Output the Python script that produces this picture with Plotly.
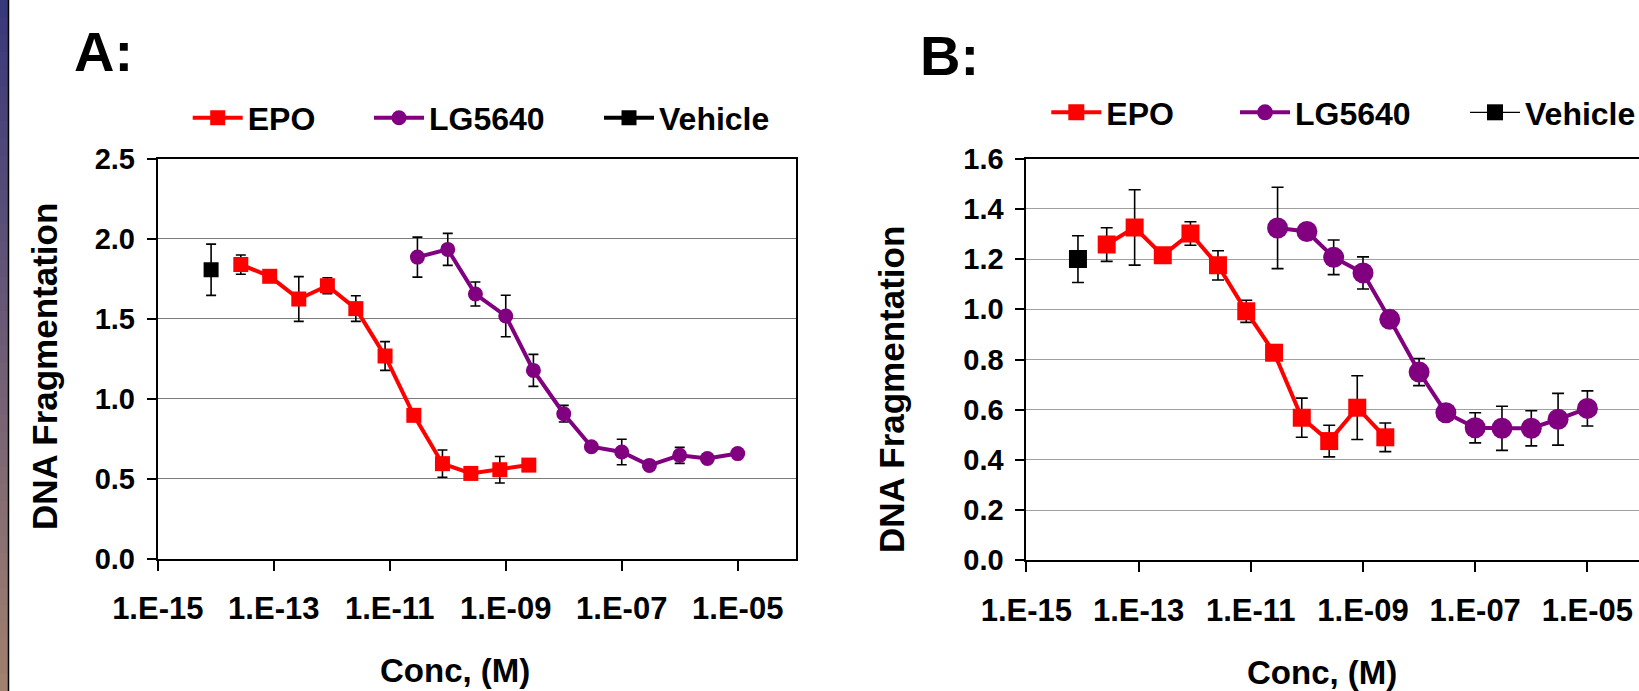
import plotly.graph_objects as go

# ---------------- data ----------------
tick_vals = [1e-15, 1e-13, 1e-11, 1e-09, 1e-07, 1e-05]
tick_text = ["1.E-15", "1.E-13", "1.E-11", "1.E-09", "1.E-07", "1.E-05"]

vehicle_conc = [8.3e-15]
epo_conc = [2.7e-14, 8.5e-14, 2.7e-13, 8.4e-13, 2.6e-12, 8.3e-12,
            2.6e-11, 8.1e-11, 2.5e-10, 7.9e-10, 2.5e-09]
lg_conc = [3e-11, 1e-10, 3e-10, 1e-09, 3e-09, 1e-08,
           3e-08, 1e-07, 3e-07, 1e-06, 3e-06, 1e-05]

# Panel A
a_vehicle = [1.806]
a_vehicle_err = [0.16]
a_epo = [1.838, 1.765, 1.623, 1.706, 1.563, 1.267, 0.896, 0.594, 0.533, 0.556, 0.585]
a_epo_err = [0.06, 0.02, 0.14, 0.05, 0.08, 0.09, 0.02, 0.085, 0.02, 0.083, 0.02]
a_lg = [1.885, 1.933, 1.654, 1.517, 1.177, 0.906, 0.700, 0.667, 0.583, 0.646, 0.626, 0.657]
a_lg_err = [0.125, 0.10, 0.075, 0.13, 0.10, 0.052, 0.02, 0.08, 0.02, 0.05, 0.02, 0.02]

# Panel B
b_vehicle = [1.20]
b_vehicle_err = [0.093]
b_epo = [1.258, 1.326, 1.215, 1.302, 1.175, 0.992, 0.827, 0.568, 0.475, 0.608, 0.490]
b_epo_err = [0.067, 0.15, 0.02, 0.047, 0.058, 0.044, 0.02, 0.078, 0.063, 0.127, 0.057]
b_lg = [1.324, 1.310, 1.207, 1.145, 0.960, 0.750, 0.588, 0.528, 0.526, 0.526, 0.562, 0.605]
b_lg_err = [0.162, 0.02, 0.069, 0.064, 0.02, 0.054, 0.02, 0.06, 0.088, 0.07, 0.103, 0.07]

# ---------------- layout constants ----------------
W, H = 1639, 691
FONT = "Liberation Sans, Arial, sans-serif"
RED, PURPLE, BLACK = "#FF0000", "#800080", "#000000"


def px(x):
    return x / W


def py(y):
    return (H - y) / H


fig = go.Figure()


def err(vals, width, thick=1.6):
    return dict(type="data", array=vals, visible=True, color="black",
                thickness=thick, width=width)


# ---- Panel A traces ----
fig.add_trace(go.Scatter(x=epo_conc, y=a_epo, name="EPO", mode="lines+markers",
                         line=dict(color=RED, width=4),
                         marker=dict(symbol="square", size=15, color=RED),
                         error_y=err(a_epo_err, 5), xaxis="x", yaxis="y",
                         legend="legend2"))
fig.add_trace(go.Scatter(x=lg_conc, y=a_lg, name="LG5640", mode="lines+markers",
                         line=dict(color=PURPLE, width=4),
                         marker=dict(symbol="circle", size=15, color=PURPLE),
                         error_y=err(a_lg_err, 5), xaxis="x", yaxis="y",
                         legend="legend3"))
fig.add_trace(go.Scatter(x=vehicle_conc, y=a_vehicle, name="Vehicle", mode="lines+markers",
                         line=dict(color=BLACK, width=4),
                         marker=dict(symbol="square", size=15, color=BLACK),
                         error_y=err(a_vehicle_err, 5), xaxis="x", yaxis="y",
                         legend="legend4"))

# ---- Panel B traces ----
fig.add_trace(go.Scatter(x=epo_conc, y=b_epo, name="EPO", mode="lines+markers",
                         line=dict(color=RED, width=4),
                         marker=dict(symbol="square", size=18, color=RED),
                         error_y=err(b_epo_err, 6), xaxis="x2", yaxis="y2",
                         legend="legend5"))
fig.add_trace(go.Scatter(x=lg_conc, y=b_lg, name="LG5640", mode="lines+markers",
                         line=dict(color=PURPLE, width=4),
                         marker=dict(symbol="circle", size=21, color=PURPLE),
                         error_y=err(b_lg_err, 6), xaxis="x2", yaxis="y2",
                         legend="legend6"))
fig.add_trace(go.Scatter(x=vehicle_conc, y=b_vehicle, name="Vehicle", mode="lines+markers",
                         line=dict(color=BLACK, width=1.2),
                         marker=dict(symbol="square", size=18, color=BLACK),
                         error_y=err(b_vehicle_err, 6), xaxis="x2", yaxis="y2",
                         legend="legend7"))

xtickfont = dict(family=FONT, size=31, color="black", weight=700)
ytickfont = dict(family=FONT, size=29, color="black", weight=700)

xcommon = dict(type="log", tickvals=tick_vals, ticktext=tick_text, tickfont=xtickfont,
               ticks="outside", ticklen=10, tickwidth=2, tickcolor="black",
               showline=True, linecolor="black", linewidth=2, showgrid=False,
               zeroline=False, ticklabelstandoff=11, fixedrange=True, automargin=False)
ycommon = dict(tickfont=ytickfont, ticks="outside", ticklen=9, tickwidth=2,
               tickcolor="black", showline=True, linecolor="black", linewidth=2,
               showgrid=True, gridcolor="#7a7a7a", gridwidth=1, zeroline=False,
               tickformat=".1f", ticklabelstandoff=6, fixedrange=True, automargin=False)

A_x0, A_x1 = 157.8, 795.7
A_top, A_bot = 158.7, 558.7
B_x0 = 1026.4
B_top, B_bot = 158.7, 560.3

fig.update_layout(
    width=W, height=H,
    margin=dict(l=0, r=0, t=0, b=0, autoexpand=False),
    paper_bgcolor="white", plot_bgcolor="white",
    font=dict(family=FONT, color="black"),
    showlegend=True,
    xaxis=dict(xcommon, domain=[px(A_x0), px(A_x1)], range=[-15, -4],
               anchor="y", mirror=True),
    yaxis=dict(ycommon, domain=[py(A_bot), py(A_top)], range=[0, 2.5], dtick=0.5,
               anchor="x", mirror=True),
    xaxis2=dict(xcommon, domain=[px(B_x0), 1.0], range=[-15, -15 + (W - B_x0) / 56.1],
                anchor="y2", mirror=True),
    yaxis2=dict(ycommon, domain=[py(B_bot), py(B_top)], range=[0, 1.6], dtick=0.2,
                anchor="x2", gridcolor="#a0a0a0"),
)

# ---- legends: one per entry so each can be placed like the original ----
leg_font = dict(family=FONT, size=32, color="black", weight=700)
leg_specs = [
    ("legend2", 187.7, 118),
    ("legend3", 369.0, 118),
    ("legend4", 599.0, 118),
    ("legend5", 1046.3, 112.5),
    ("legend6", 1235.0, 112.5),
    ("legend7", 1465.0, 112.5),
]
for name, lx, ly in leg_specs:
    fig.update_layout({name: dict(x=px(lx), y=py(ly), xref="container", yref="container",
                                  xanchor="left", yanchor="middle",
                                  orientation="h", font=leg_font, itemwidth=50,
                                  bgcolor="rgba(0,0,0,0)", borderwidth=0,
                                  itemclick=False, itemdoubleclick=False)})

# ---- panel labels & axis titles ----
ann = [
    dict(text="A:", x=px(72), y=py(52), xanchor="left", yanchor="middle",
         font=dict(family=FONT, size=56, weight=700)),
    dict(text="B:", x=px(918), y=py(55), xanchor="left", yanchor="middle",
         font=dict(family=FONT, size=56, weight=700)),
    dict(text="DNA Fragmentation", x=px(44), y=py(367), textangle=-90,
         xanchor="center", yanchor="middle", font=dict(family=FONT, size=35, weight=700)),
    dict(text="DNA Fragmentation", x=px(891), y=py(390), textangle=-90,
         xanchor="center", yanchor="middle", font=dict(family=FONT, size=35, weight=700)),
    dict(text="Conc, (M)", x=px(455), y=py(670), xanchor="center", yanchor="middle",
         font=dict(family=FONT, size=33, weight=700)),
    dict(text="Conc, (M)", x=px(1322), y=py(672), xanchor="center", yanchor="middle",
         font=dict(family=FONT, size=33, weight=700)),
]
for a in ann:
    a.update(xref="paper", yref="paper", showarrow=False)
fig.update_layout(annotations=ann)

# ---- decorative slide edge on the left (gradient strip) ----
shapes = []
n = 40
c0 = (58, 56, 124)
c1 = (160, 128, 110)
for i in range(n):
    t = i / (n - 1)
    c = tuple(int(round(c0[k] + (c1[k] - c0[k]) * t)) for k in range(3))
    shapes.append(dict(type="rect", xref="paper", yref="paper",
                       x0=0, x1=px(8), y0=max(0, 1 - (i + 1.6) / n), y1=1 - i / n,
                       fillcolor="rgb(%d,%d,%d)" % c,
                       line=dict(width=0), layer="above"))
shapes.append(dict(type="line", xref="paper", yref="paper", x0=px(8.5), x1=px(8.5),
                   y0=0, y1=1, line=dict(color="black", width=1.5), layer="above"))
fig.update_layout(shapes=shapes)

fig.write_html("out.html",
               config={"displayModeBar": False},
               post_script="document.body.style.margin='0px';"
                           "document.body.style.overflow='hidden';")
